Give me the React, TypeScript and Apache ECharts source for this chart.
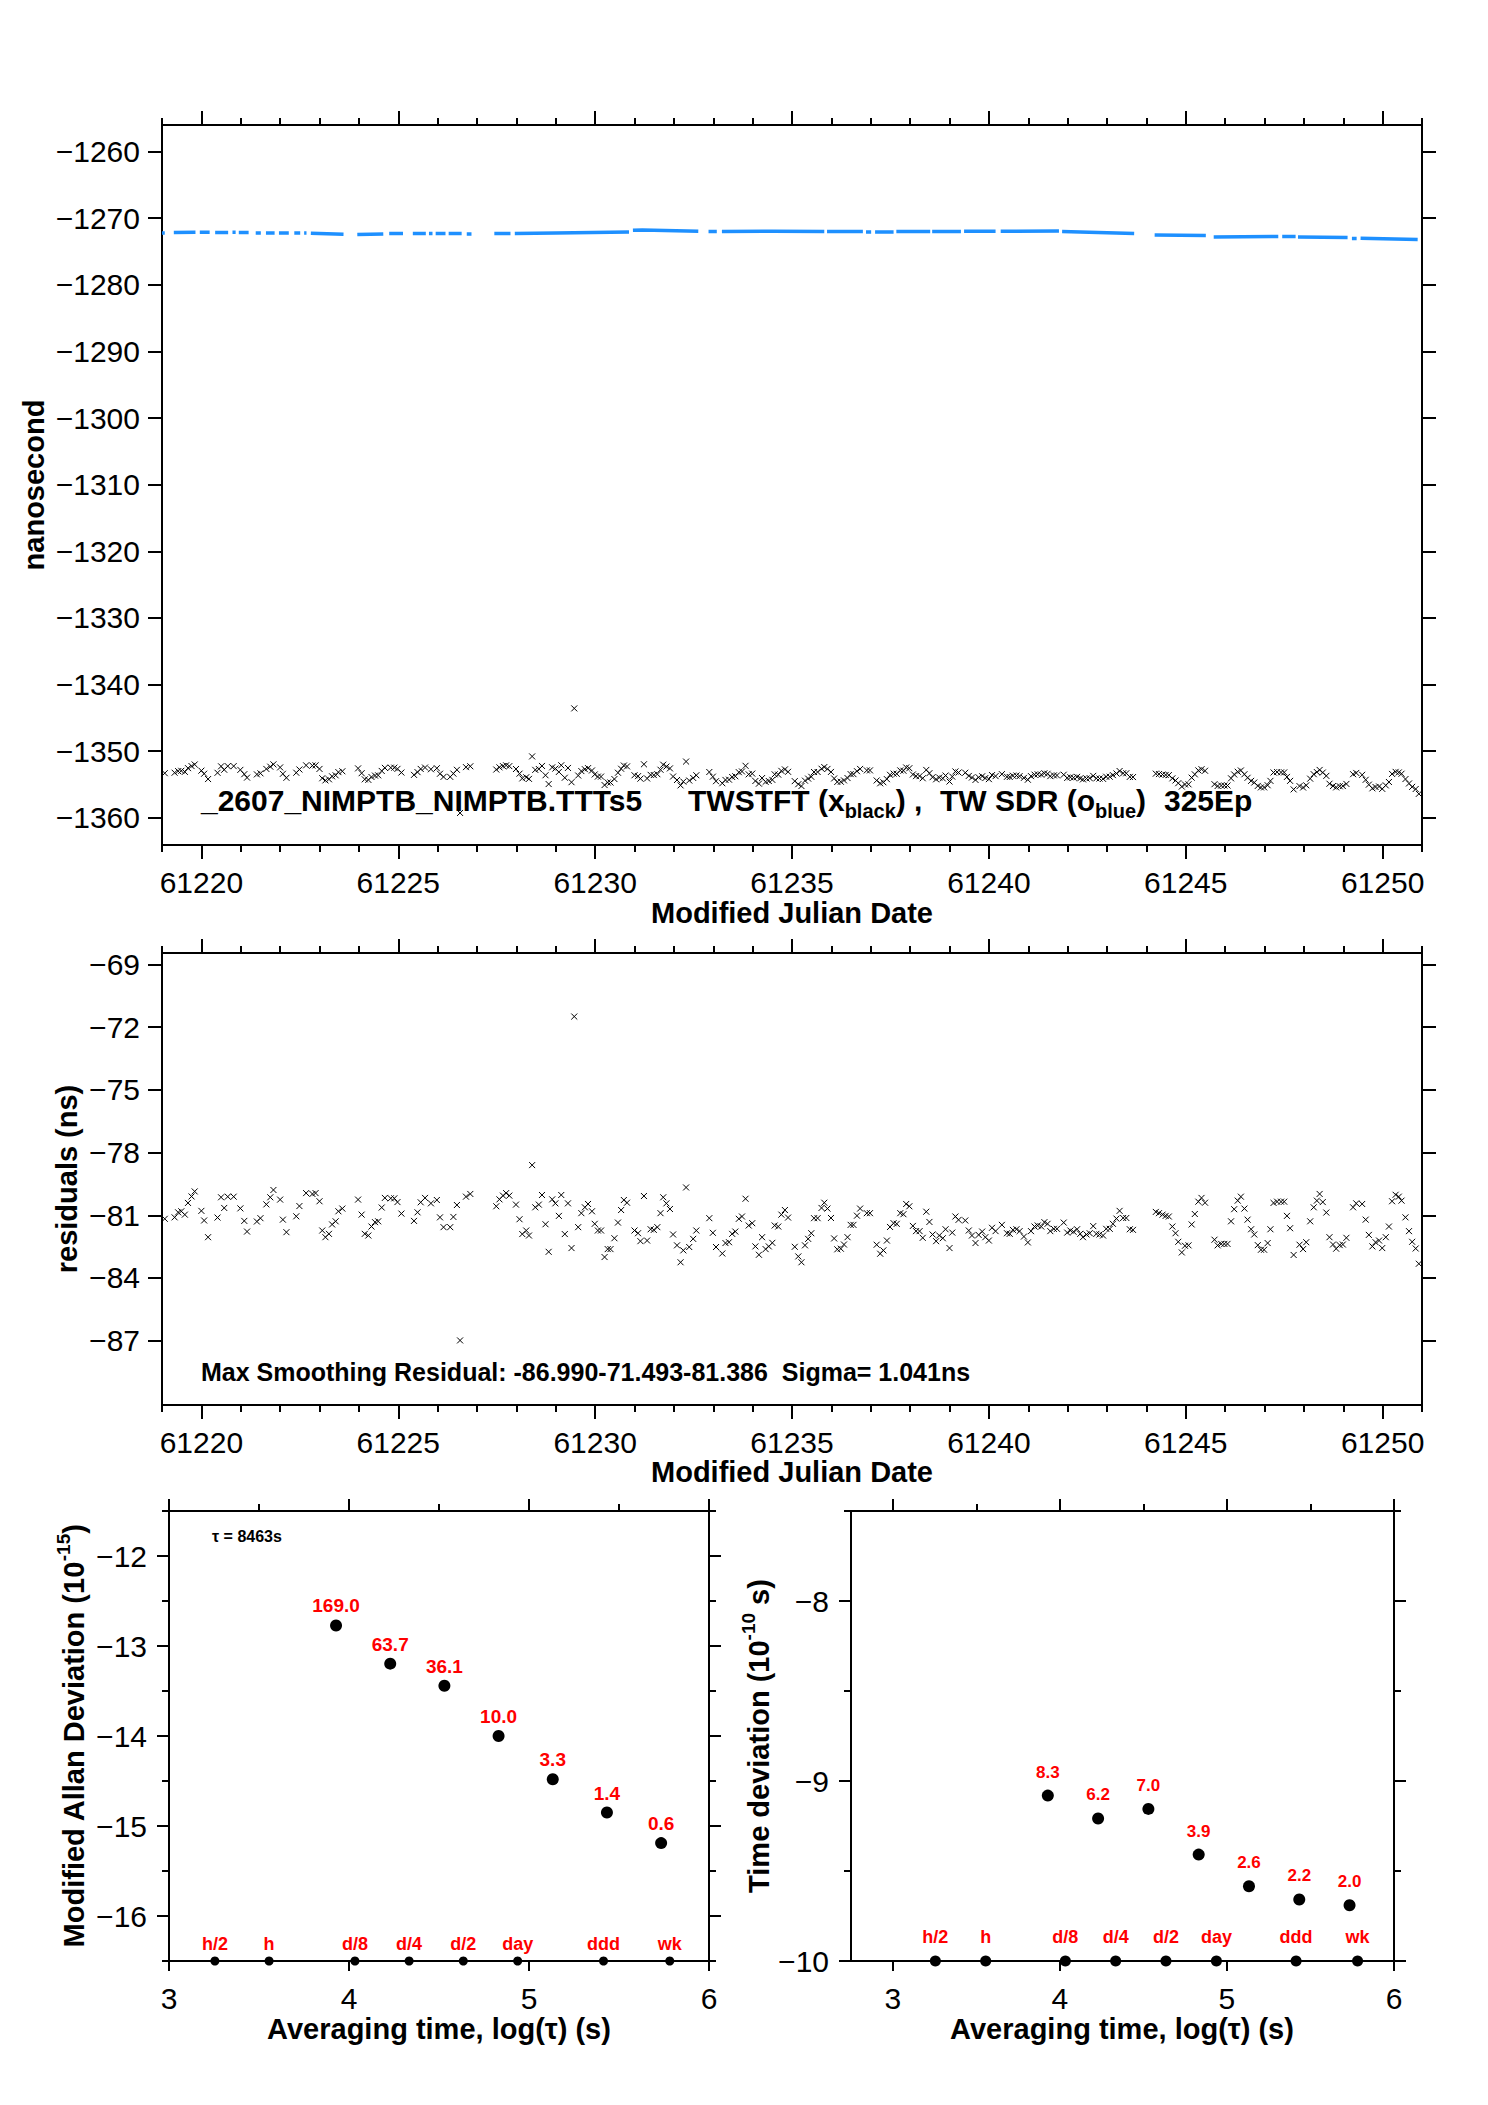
import React, { useEffect, useRef } from 'react';
import * as echarts from 'echarts';

const FONT = '"Liberation Sans", Arial, Helvetica, sans-serif';

// TWSTFT epochs (MJD)
const mjd = [
  61219.07, 61219.32, 61219.41, 61219.49, 61219.58, 61219.66, 61219.75, 61219.83, 61220.00, 61220.07,
  61220.17, 61220.41, 61220.50, 61220.58, 61220.67, 61220.82, 61220.99, 61221.09, 61221.16, 61221.41,
  61221.50, 61221.65, 61221.75, 61221.83, 61222.00, 61222.07, 61222.16, 61222.41, 61222.49, 61222.66,
  61222.82, 61222.90, 61223.00, 61223.07, 61223.15, 61223.24, 61223.32, 61223.41, 61223.48, 61223.58,
  61223.98, 61224.07, 61224.15, 61224.24, 61224.32, 61224.41, 61224.49, 61224.58, 61224.66, 61224.81,
  61224.90, 61224.98, 61225.08, 61225.40, 61225.49, 61225.57, 61225.68, 61225.83, 61225.98, 61226.06,
  61226.15, 61226.32, 61226.40, 61226.49, 61226.57, 61226.72, 61226.83, 61227.49, 61227.57, 61227.66,
  61227.74, 61227.82, 61227.99, 61228.08, 61228.15, 61228.25, 61228.32, 61228.40, 61228.48, 61228.57,
  61228.65, 61228.74, 61228.82, 61228.91, 61228.99, 61229.08, 61229.14, 61229.23, 61229.31, 61229.40,
  61229.47, 61229.57, 61229.65, 61229.74,
  61229.82, 61229.92, 61229.99, 61230.07, 61230.15, 61230.24, 61230.32, 61230.39, 61230.49, 61230.58,
  61230.66, 61230.73, 61230.81, 61231.00, 61231.09, 61231.15, 61231.24, 61231.32, 61231.41, 61231.49,
  61231.58, 61231.66, 61231.73, 61231.81, 61231.90, 61231.98, 61232.08, 61232.17, 61232.24, 61232.31,
  61232.39, 61232.49, 61232.57, 61232.90, 61232.99, 61233.07, 61233.23, 61233.31, 61233.40, 61233.48,
  61233.56, 61233.65, 61233.73, 61233.82, 61233.90, 61233.99, 61234.07, 61234.16, 61234.24, 61234.33,
  61234.41, 61234.50, 61234.56, 61234.65, 61234.73, 61234.82, 61234.90, 61235.07, 61235.16, 61235.24,
  61235.33, 61235.41, 61235.49, 61235.56, 61235.65, 61235.75, 61235.82, 61235.90, 61235.99, 61236.07,
  61236.15, 61236.24, 61236.32, 61236.41, 61236.49, 61236.56, 61236.65, 61236.73, 61236.90, 61236.98,
  61237.15, 61237.24, 61237.32, 61237.41, 61237.49, 61237.58, 61237.66, 61237.75, 61237.83, 61237.90,
  61237.98, 61238.07, 61238.15, 61238.24, 61238.32, 61238.41, 61238.49, 61238.57, 61238.66, 61238.74,
  61238.83, 61238.90, 61239.00, 61239.07, 61239.15, 61239.23, 61239.40, 61239.49, 61239.57, 61239.66,
  61239.74, 61239.83, 61239.91, 61240.00, 61240.08, 61240.17, 61240.33,
  61240.46, 61240.53, 61240.61, 61240.70, 61240.78, 61240.89, 61240.99, 61241.07, 61241.16, 61241.24,
  61241.33, 61241.41, 61241.49, 61241.56, 61241.65, 61241.73, 61241.90, 61241.99, 61242.07, 61242.15,
  61242.24, 61242.32, 61242.39, 61242.48, 61242.56, 61242.65, 61242.73, 61242.81, 61242.90, 61242.98,
  61243.07, 61243.15, 61243.24, 61243.32, 61243.41, 61243.49, 61243.58, 61243.66, 61244.24, 61244.32,
  61244.41, 61244.49, 61244.57, 61244.66, 61244.74, 61244.81, 61244.90, 61244.98, 61245.07, 61245.15,
  61245.23, 61245.32, 61245.40, 61245.49, 61245.73, 61245.81, 61245.90, 61245.98, 61246.06, 61246.15,
  61246.23, 61246.32, 61246.40, 61246.49, 61246.57, 61246.66, 61246.74, 61246.83, 61246.91, 61246.99,
  61247.08, 61247.15, 61247.23, 61247.32, 61247.42, 61247.50, 61247.57, 61247.65, 61247.74, 61247.89,
  61247.98, 61248.06, 61248.16, 61248.25, 61248.33, 61248.40, 61248.48, 61248.57, 61248.65, 61248.74,
  61248.82, 61248.91, 61248.99, 61249.08, 61249.25, 61249.33, 61249.48, 61249.57, 61249.65, 61249.74,
  61249.82, 61249.91, 61249.99, 61250.08, 61250.16, 61250.24, 61250.33, 61250.41, 61250.48, 61250.58,
  61250.67, 61250.75, 61250.84, 61250.92,
];

// smoothing residuals (ns)
const residual = [
  -81.17, -81.10, -80.86, -80.81, -80.97, -80.41, -80.10, -79.86, -80.79, -81.25,
  -82.05, -81.11, -80.14, -80.65, -80.11, -80.11, -80.67, -81.27, -81.78, -81.30,
  -81.14, -80.48, -80.14, -79.79, -80.25, -81.21, -81.81, -81.05, -80.56, -79.94,
  -79.98, -79.94, -80.33, -81.73, -82.05, -81.89, -81.44, -81.29, -80.81, -80.68,
  -80.25, -80.97, -81.89, -81.97, -81.54, -81.33, -81.29, -80.63, -80.17, -80.19,
  -80.19, -80.37, -80.92, -81.27, -80.86, -80.38, -80.17, -80.43, -80.27, -81.10,
  -81.57, -81.57, -81.08, -80.51, -86.99, -80.11, -79.98, -80.57, -80.24, -80.06,
  -79.94, -80.06, -80.49, -81.19, -81.90, -81.73, -81.97, -78.60, -80.62, -80.49,
  -80.03, -81.43, -82.75, -80.24, -80.43, -81.03, -80.03, -81.90, -80.43, -82.57,
  -71.49, -81.57, -80.90, -80.62,
  -80.46, -80.81, -81.41, -81.73, -81.73, -83.00, -82.62, -82.62, -82.10, -81.35,
  -80.75, -80.27, -80.40, -81.73, -81.86, -82.24, -80.08, -82.21, -81.67, -81.70,
  -81.57, -80.90, -80.14, -80.43, -80.70, -81.92, -82.44, -83.25, -82.68, -79.67,
  -82.52, -82.13, -81.73, -81.14, -81.84, -82.52, -82.83, -82.33, -82.29, -81.89,
  -81.78, -81.17, -81.06, -80.21, -81.49, -81.38, -82.49, -82.89, -82.05, -82.62,
  -82.49, -82.32, -81.49, -81.54, -80.97, -80.75, -81.11, -82.51, -82.97, -83.25,
  -82.44, -82.13, -81.86, -81.14, -81.14, -80.65, -80.40, -80.68, -81.13, -82.11,
  -82.63, -82.60, -82.40, -82.05, -81.46, -81.46, -81.02, -80.68, -80.90, -80.90,
  -82.41, -82.84, -82.68, -82.21, -81.56, -81.38, -81.41, -80.90, -80.95, -80.46,
  -80.57, -81.51, -81.76, -81.76, -82.08, -80.83, -81.32, -81.92, -82.24, -81.97,
  -82.10, -81.67, -82.57, -81.83, -81.06, -81.22, -81.25, -81.73, -81.97, -82.33,
  -81.94, -81.78, -82.05, -82.21, -81.60, -81.76, -81.46,
  -81.86, -81.89, -81.70, -81.67, -81.76, -82.02, -82.30, -81.76, -81.54, -81.49,
  -81.54, -81.33, -81.41, -81.76, -81.65, -81.65, -81.35, -81.83, -81.73, -81.79,
  -81.67, -81.89, -82.05, -81.92, -81.86, -81.52, -81.89, -81.92, -81.97, -81.65,
  -81.65, -81.41, -81.16, -80.79, -81.13, -81.13, -81.67, -81.70, -80.84, -80.90,
  -80.97, -81.03, -81.06, -81.54, -81.86, -82.27, -82.78, -82.46, -82.44, -81.44,
  -80.94, -80.35, -80.17, -80.40, -82.17, -82.44, -82.37, -82.37, -82.37, -81.29,
  -80.71, -80.30, -80.11, -80.68, -81.21, -81.67, -81.92, -82.43, -82.65, -82.65,
  -82.33, -81.67, -80.41, -80.35, -80.35, -80.35, -81.03, -81.62, -82.90, -82.41,
  -82.62, -82.29, -81.29, -80.62, -80.30, -79.98, -80.37, -80.87, -82.05, -82.40,
  -82.60, -82.43, -82.40, -82.08, -80.62, -80.43, -80.46, -81.21, -81.94, -82.49,
  -82.29, -82.21, -82.57, -82.05, -81.54, -80.33, -80.02, -80.11, -80.30, -81.10,
  -81.76, -82.27, -82.59, -83.32,
];

// TWSTFT raw values (ns)
const twstft = [
  -1353.32, -1353.25, -1353.01, -1352.96, -1353.12, -1352.56, -1352.25, -1352.01, -1352.94, -1353.40,
  -1354.20, -1353.26, -1352.29, -1352.80, -1352.26, -1352.26, -1352.82, -1353.47, -1353.98, -1353.50,
  -1353.34, -1352.68, -1352.34, -1351.99, -1352.45, -1353.41, -1354.01, -1353.25, -1352.76, -1352.14,
  -1352.18, -1352.14, -1352.68, -1354.08, -1354.40, -1354.24, -1353.79, -1353.64, -1353.16, -1353.03,
  -1352.60, -1353.32, -1354.24, -1354.32, -1353.89, -1353.68, -1353.64, -1352.98, -1352.52, -1352.49,
  -1352.49, -1352.67, -1353.22, -1353.57, -1353.16, -1352.68, -1352.47, -1352.73, -1352.57, -1353.40,
  -1353.87, -1353.87, -1353.38, -1352.81, -1359.29, -1352.41, -1352.28, -1352.77, -1352.44, -1352.26,
  -1352.14, -1352.26, -1352.69, -1353.39, -1354.10, -1353.93, -1354.17, -1350.80, -1352.82, -1352.69,
  -1352.23, -1353.63, -1354.95, -1352.44, -1352.63, -1353.13, -1352.13, -1354.00, -1352.53, -1354.67,
  -1343.59, -1353.67, -1353.00, -1352.72,
  -1352.56, -1352.91, -1353.51, -1353.83, -1353.83, -1355.10, -1354.72, -1354.72, -1354.20, -1353.25,
  -1352.65, -1352.17, -1352.30, -1353.63, -1353.76, -1354.14, -1351.98, -1354.11, -1353.57, -1353.60,
  -1353.47, -1352.80, -1352.04, -1352.33, -1352.60, -1353.82, -1354.34, -1355.15, -1354.58, -1351.57,
  -1354.42, -1354.03, -1353.63, -1353.14, -1353.84, -1354.52, -1354.83, -1354.33, -1354.29, -1353.89,
  -1353.78, -1353.17, -1353.06, -1352.21, -1353.49, -1353.38, -1354.49, -1354.89, -1354.05, -1354.62,
  -1354.49, -1354.32, -1353.49, -1353.54, -1352.97, -1352.75, -1353.11, -1354.51, -1354.97, -1355.25,
  -1354.44, -1354.13, -1353.86, -1353.14, -1353.14, -1352.65, -1352.40, -1352.68, -1353.13, -1354.11,
  -1354.63, -1354.60, -1354.40, -1354.05, -1353.46, -1353.46, -1353.02, -1352.68, -1352.90, -1352.90,
  -1354.41, -1354.84, -1354.68, -1354.21, -1353.56, -1353.38, -1353.41, -1352.90, -1352.95, -1352.46,
  -1352.57, -1353.51, -1353.76, -1353.76, -1354.08, -1352.83, -1353.32, -1353.92, -1354.24, -1353.97,
  -1354.10, -1353.67, -1354.57, -1353.83, -1353.06, -1353.22, -1353.25, -1353.73, -1353.97, -1354.33,
  -1353.94, -1353.78, -1354.05, -1354.21, -1353.60, -1353.76, -1353.46,
  -1353.86, -1353.89, -1353.70, -1353.67, -1353.76, -1354.02, -1354.30, -1353.76, -1353.54, -1353.49,
  -1353.54, -1353.33, -1353.41, -1353.76, -1353.65, -1353.65, -1353.55, -1354.03, -1353.93, -1353.99,
  -1353.87, -1354.09, -1354.25, -1354.12, -1354.06, -1353.72, -1354.09, -1354.12, -1354.17, -1353.85,
  -1353.85, -1353.61, -1353.36, -1352.99, -1353.33, -1353.33, -1353.87, -1353.90, -1353.39, -1353.45,
  -1353.52, -1353.58, -1353.61, -1354.09, -1354.41, -1354.82, -1355.33, -1355.01, -1354.99, -1353.99,
  -1353.49, -1352.90, -1352.72, -1352.95, -1354.97, -1355.24, -1355.17, -1355.17, -1355.17, -1354.09,
  -1353.51, -1353.10, -1352.91, -1353.48, -1354.01, -1354.47, -1354.72, -1355.23, -1355.45, -1355.45,
  -1355.13, -1354.47, -1353.21, -1353.15, -1353.20, -1353.20, -1353.88, -1354.47, -1355.75, -1355.26,
  -1355.47, -1355.14, -1354.14, -1353.47, -1353.15, -1352.83, -1353.22, -1353.72, -1354.90, -1355.25,
  -1355.45, -1355.28, -1355.25, -1354.93, -1353.47, -1353.28, -1353.56, -1354.31, -1355.04, -1355.59,
  -1355.39, -1355.31, -1355.67, -1355.15, -1354.64, -1353.43, -1353.12, -1353.21, -1353.40, -1354.20,
  -1354.86, -1355.37, -1355.69, -1356.42,
];

// TW SDR: continuous stretches of data (MJD) and their values (ns)
const sdrMjd = [
  [61219.0, 61219.07], [61219.3, 61219.85], [61219.96, 61220.21], [61220.35, 61220.68],
  [61220.79, 61220.87], [61220.95, 61221.2], [61221.38, 61221.51], [61221.64, 61221.86],
  [61221.97, 61222.22], [61222.36, 61222.51], [61222.61, 61222.67], [61222.78, 61223.61],
  [61223.96, 61224.62], [61224.77, 61225.12], [61225.37, 61225.7], [61225.78, 61225.87],
  [61225.95, 61226.2], [61226.28, 61226.61], [61226.74, 61226.86], [61227.44, 61227.85],
  [61227.96, 61229.0, 61230.86], [61230.96, 61231.2, 61232.62], [61232.88, 61233.09],
  [61233.22, 61234.5, 61235.82], [61235.89, 61236.8], [61236.88, 61237.01], [61237.11, 61237.58],
  [61237.65, 61238.51], [61238.56, 61239.29], [61239.37, 61240.17], [61240.3, 61241.78],
  [61241.86, 61243.69], [61244.21, 61245.51], [61245.71, 61247.35], [61247.45, 61247.79],
  [61247.85, 61249.11], [61249.22, 61249.34], [61249.44, 61250.89],
];
const sdrNs = [
  [-1272.2, -1272.2], [-1272.15, -1272.1], [-1272.1, -1272.1], [-1272.15, -1272.15],
  [-1272.1, -1272.1], [-1272.15, -1272.15], [-1272.2, -1272.2], [-1272.2, -1272.2],
  [-1272.2, -1272.2], [-1272.2, -1272.2], [-1272.2, -1272.2], [-1272.25, -1272.4],
  [-1272.45, -1272.35], [-1272.3, -1272.3], [-1272.3, -1272.3], [-1272.3, -1272.3],
  [-1272.3, -1272.3], [-1272.3, -1272.3], [-1272.35, -1272.35], [-1272.3, -1272.3],
  [-1272.3, -1272.2, -1272.05], [-1271.8, -1271.75, -1271.95], [-1272.0, -1272.0],
  [-1272.0, -1271.95, -1272.0], [-1272.0, -1272.0], [-1272.05, -1272.05], [-1272.05, -1272.05],
  [-1272.0, -1272.0], [-1272.0, -1272.0], [-1271.95, -1271.95], [-1271.95, -1271.9],
  [-1272.0, -1272.3], [-1272.5, -1272.6], [-1272.8, -1272.75], [-1272.75, -1272.75],
  [-1272.8, -1272.9], [-1273.05, -1273.05], [-1273.0, -1273.2],
];

const dayTicks = [
  61219, 61220, 61221, 61222, 61223, 61224, 61225, 61226, 61227, 61228, 61229, 61230, 61231,
  61232, 61233, 61234, 61235, 61236, 61237, 61238, 61239, 61240, 61241, 61242, 61243, 61244,
  61245, 61246, 61247, 61248, 61249, 61250, 61251,
];
const mjdLabels = [61220, 61225, 61230, 61235, 61240, 61245, 61250];
const nsTicks = [-1360, -1350, -1340, -1330, -1320, -1310, -1300, -1290, -1280, -1270, -1260];
const residTicks = [-87, -84, -81, -78, -75, -72, -69];
const logTicks = [3, 4, 5, 6];
const logMinor = [3.5, 4.5, 5.5];
const mdevTicks = [-16, -15, -14, -13, -12];
const mdevMinor = [-16.5, -15.5, -14.5, -13.5, -12.5, -11.5];
const tdevTicks = [-10, -9, -8];
const tdevMinor = [-9.5, -8.5, -7.5];

// stability: log10(tau) of each point, log10 of deviation and printed values
const tauLog = [3.928, 4.229, 4.53, 4.831, 5.132, 5.433, 5.734];
const mdevLog = [-12.772, -13.196, -13.442, -14.0, -14.48, -14.85, -15.19];
const mdevText = ['169.0', '63.7', '36.1', '10.0', '3.3', '1.4', '0.6'];
const tdevLog = [-9.081, -9.208, -9.155, -9.409, -9.585, -9.658, -9.69];
const tdevText = ['8.3', '6.2', '7.0', '3.9', '2.6', '2.2', '2.0'];
const markLog = [3.255, 3.556, 4.033, 4.334, 4.635, 4.937, 5.414, 5.782];
const markText = ['h/2', 'h', 'd/8', 'd/4', 'd/2', 'day', 'ddd', 'wk'];

const ink = { color: '#000', width: 2 };
const minus = (v: number) => (v < 0 ? '\u2212' : '') + Math.abs(v);

function axis(
  grid: number, position: string, min: number, max: number,
  ticks: number[], len: number, line: boolean, labels?: number[], isX?: boolean,
) {
  return {
    type: 'value', gridIndex: grid, position, min, max,
    axisLine: { show: line, onZero: false, lineStyle: ink },
    axisTick: { show: true, inside: false, length: len, customValues: ticks, lineStyle: ink },
    axisLabel: labels
      ? {
          show: true, customValues: labels, margin: 22,
          formatter: isX ? (v: number) => String(v) : minus,
          color: '#000', fontFamily: FONT, fontSize: 30,
        }
      : { show: false },
    splitLine: { show: false },
  };
}

function text(x: number, y: number, str: string, size: number, extra: any = {}) {
  return {
    type: 'text', x, y, rotation: extra.rotation || 0,
    style: {
      text: str, fill: '#000', fontFamily: FONT, fontSize: size,
      fontWeight: extra.weight || 'bold', align: extra.align || 'center',
      verticalAlign: 'middle', lineHeight: extra.lineHeight, rich: extra.rich,
    },
  };
}

const sub = { fontSize: 20, fontWeight: 'bold', fontFamily: FONT, fill: '#000', verticalAlign: 'bottom', lineHeight: 20 };
const sup = { fontSize: 19, fontWeight: 'bold', fontFamily: FONT, fill: '#000', verticalAlign: 'top', lineHeight: 19 };

const xMark = 'path://M0 0L6 6M6 0L0 6';

function buildOption() {
  const sdrData: any[] = [];
  sdrMjd.forEach((seg, s) => {
    if (s > 0) sdrData.push(['-', '-']);
    seg.forEach((m, i) => sdrData.push([m, sdrNs[s][i]]));
  });

  const xAxis = [
    axis(0, 'bottom', 61219, 61251, mjdLabels, 14, true, mjdLabels, true),
    axis(0, 'bottom', 61219, 61251, dayTicks, 7, false),
    axis(0, 'top', 61219, 61251, mjdLabels, 14, true),
    axis(0, 'top', 61219, 61251, dayTicks, 7, false),
    axis(1, 'bottom', 61219, 61251, mjdLabels, 14, true, mjdLabels, true),
    axis(1, 'bottom', 61219, 61251, dayTicks, 7, false),
    axis(1, 'top', 61219, 61251, mjdLabels, 14, true),
    axis(1, 'top', 61219, 61251, dayTicks, 7, false),
    axis(2, 'bottom', 3, 6, logTicks, 10, true, logTicks, true),
    axis(2, 'top', 3, 6, logTicks, 12, true),
    axis(2, 'top', 3, 6, logMinor, 7, false),
    axis(3, 'bottom', 2.75, 6, logTicks, 10, true, logTicks, true),
    axis(3, 'top', 2.75, 6, logTicks, 12, true),
    axis(3, 'top', 2.75, 6, logMinor, 7, false),
  ];
  const yAxis = [
    axis(0, 'left', -1364.1, -1256, nsTicks, 14, true, nsTicks),
    axis(0, 'right', -1364.1, -1256, nsTicks, 14, true),
    axis(1, 'left', -90.08, -68.45, residTicks, 14, true, residTicks),
    axis(1, 'right', -90.08, -68.45, residTicks, 14, true),
    axis(2, 'left', -16.5, -11.5, mdevTicks, 12, true, mdevTicks),
    axis(2, 'left', -16.5, -11.5, mdevMinor, 7, false),
    axis(2, 'right', -16.5, -11.5, mdevTicks, 12, true),
    axis(2, 'right', -16.5, -11.5, mdevMinor, 7, false),
    axis(3, 'left', -10, -7.5, tdevTicks, 12, true, tdevTicks),
    axis(3, 'left', -10, -7.5, tdevMinor, 7, false),
    axis(3, 'right', -10, -7.5, tdevTicks, 12, true),
    axis(3, 'right', -10, -7.5, tdevMinor, 7, false),
  ];

  const redLabel = (names: string[], size: number, distance: number) => ({
    show: true, position: 'top', distance,
    formatter: (p: any) => names[p.dataIndex],
    color: '#ff0000', fontFamily: FONT, fontWeight: 'bold', fontSize: size,
  });
  const crossStyle = { color: 'transparent', borderColor: '#000', borderWidth: 1, opacity: 1 };
  const dotStyle = { color: '#000', opacity: 1 };

  const series = [
    {
      type: 'line', xAxisIndex: 0, yAxisIndex: 0, data: sdrData,
      showSymbol: false, symbol: 'none', connectNulls: false,
      lineStyle: { color: '#1e90ff', width: 3.5, cap: 'butt', opacity: 1 },
    },
    {
      type: 'scatter', xAxisIndex: 0, yAxisIndex: 0,
      data: mjd.map((m, i) => [m, twstft[i]]),
      symbol: xMark, symbolSize: 6, itemStyle: crossStyle,
    },
    {
      type: 'scatter', xAxisIndex: 4, yAxisIndex: 2,
      data: mjd.map((m, i) => [m, residual[i]]),
      symbol: xMark, symbolSize: 6, itemStyle: crossStyle,
    },
    {
      type: 'scatter', xAxisIndex: 8, yAxisIndex: 4,
      data: tauLog.map((t, i) => [t, mdevLog[i]]),
      symbol: 'circle', symbolSize: 12, itemStyle: dotStyle,
      label: redLabel(mdevText, 19, 4),
    },
    {
      type: 'scatter', xAxisIndex: 8, yAxisIndex: 4,
      data: markLog.map((t) => [t, -16.5]),
      symbol: 'circle', symbolSize: 9, itemStyle: dotStyle,
      label: redLabel(markText, 18, 4),
    },
    {
      type: 'scatter', xAxisIndex: 11, yAxisIndex: 8,
      data: tauLog.map((t, i) => [t, tdevLog[i]]),
      symbol: 'circle', symbolSize: 12, itemStyle: dotStyle,
      label: redLabel(tdevText, 17, 9),
    },
    {
      type: 'scatter', xAxisIndex: 11, yAxisIndex: 8, clip: false,
      data: markLog.map((t) => [t, -10]),
      symbol: 'circle', symbolSize: 11, itemStyle: dotStyle,
      label: redLabel(markText, 18, 10),
    },
  ];

  const graphic = [
    text(34, 485, 'nanosecond', 29, { rotation: Math.PI / 2 }),
    text(792, 913, 'Modified Julian Date', 29),
    text(67, 1179, 'residuals (ns)', 29, { rotation: Math.PI / 2 }),
    text(792, 1472, 'Modified Julian Date', 29),
    text(201, 800, '_2607_NIMPTB_NIMPTB.TTTs5', 30, { align: 'left' }),
    text(688, 800, 'TWSTFT (x{sub|black}) ,', 30, { align: 'left', lineHeight: 42, rich: { sub } }),
    text(940, 800, 'TW SDR (o{sub|blue})', 30, { align: 'left', lineHeight: 42, rich: { sub } }),
    text(1164, 800, '325Ep', 30, { align: 'left' }),
    text(201, 1372, 'Max Smoothing Residual: -86.990-71.493-81.386  Sigma= 1.041ns', 25, { align: 'left' }),
    text(212, 1536, '\u03c4 = 8463s', 16, { align: 'left' }),
    text(74, 1736, 'Modified Allan Deviation (10{sup|-15})', 29, { rotation: Math.PI / 2, lineHeight: 40, rich: { sup } }),
    text(759, 1736, 'Time deviation (10{sup|-10} s)', 29, { rotation: Math.PI / 2, lineHeight: 40, rich: { sup } }),
    text(439, 2029, 'Averaging time, log(\u03c4) (s)', 29),
    text(1122, 2029, 'Averaging time, log(\u03c4) (s)', 29),
  ];

  return {
    animation: false,
    backgroundColor: '#fff',
    grid: [
      { left: 162, top: 125, width: 1260, height: 720, outerBoundsMode: 'none' },
      { left: 162, top: 953, width: 1260, height: 452, outerBoundsMode: 'none' },
      { left: 169, top: 1511, width: 540, height: 450, outerBoundsMode: 'none' },
      { left: 851, top: 1511, width: 543, height: 450, outerBoundsMode: 'none' },
    ],
    xAxis,
    yAxis,
    series,
    graphic,
  };
}

const App: React.FC = () => {
  const chartRef = useRef<HTMLDivElement>(null);

  useEffect(() => {
    document.body.style.margin = '0';
    if (!chartRef.current) return;
    const chart = echarts.init(chartRef.current, undefined, { renderer: 'svg' });
    chart.setOption(buildOption() as any);
    return () => {
      chart.dispose();
    };
  }, []);

  return <div ref={chartRef} style={{ width: 1488, height: 2105 }} />;
};

export default App;
